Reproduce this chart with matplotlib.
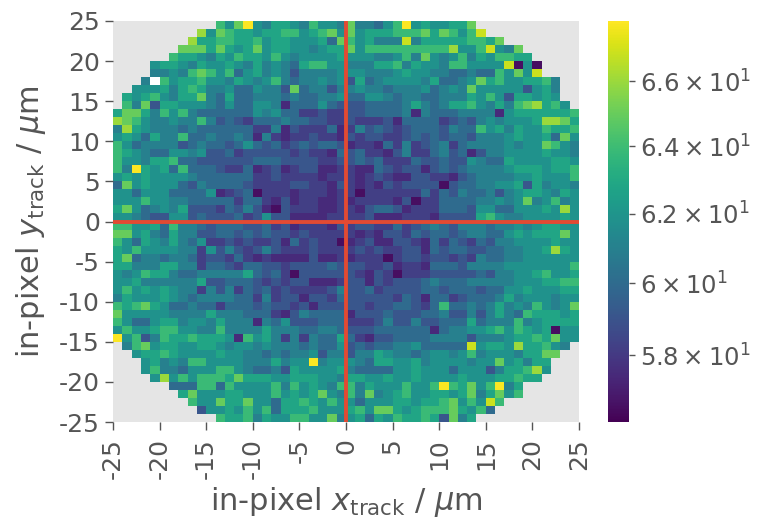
import numpy as np
import matplotlib
matplotlib.use("Agg")
import matplotlib.pyplot as plt
from matplotlib.colors import LogNorm
from matplotlib.ticker import NullLocator

# value for each colour code; '.' = no data, 'w' = white cell
value_of_code = {'0': 56.6, '1': 57.5, '2': 58.2, '3': 59.1, '4': 60.0, '5': 61.0,
                 '6': 61.9, '7': 62.8, '8': 63.9, '9': 65.0, 'a': 66.0, 'b': 66.9, 'c': 67.8,
                 'w': 1.0, '.': np.nan}

# rows from y = +25 down to y = -25, x from -25 to 0
left_half = [
"869c6577658665","a698776778867896","a7788778677666749","999797679677665677",
"8776576877686566667","677657667657565478866","556589868467565355556","5w86778665765685455656",
"66675787556446553945535","767865779547445554544556","859377666546446651444643","7997586854444446564422322",
"a986556558534324445443322","5a76555454444442251322241","6764755844544541521223221","8645555345443464342343443",
"8765446656334233333232214","8665778443333334443333223","85c7674844432241231233112","6767666654444442232222122",
"4967666435444432222332213","6646664444612340222122212","6668665544444244213122112","7964565733324353103222112",
"6654336634333423633111122","8866748554344433423122213","9967547553344343433232222","8647657546223232231423220",
"7686666552635323532223222","7945545542332421211113112","7755577552443244332333343","6568775445555574342033333",
"6675555557334443232331112","6867676552535243423222235","5766676545555442523313324","8789764454424443433231333",
"9666665555755544421354444","8644677566575551546333444","6866788665585555755544554","c683587787776186752525447",
"589677667765665655545446","67787666676655454556355","675658866665557566c566","6855466688654453766667",
"6a6868887977766777665","4448848666685867658","796667766686767965","86697796647787686",
"3667686847778666","87785766886695",
]
# same rows, x from 0 to +25
right_half = [
"955468c6766779","96777888979868b","867555b5777778879","96888888888a668b659",
"66655685965685768877","55577857665886666b060","66555676655445448696b","37456666574456978667785",
"56554555645659666663675","44665455445557686377676","33444457545778657589a786","3344445154445555167777778",
"322231444423435656667aa97","2534323444354486757668778","3233223434344355567667496","1221425234524555565669865",
"3422135224534135566667665","3434222433433654476666776","2114323313434555567776778","2123211332213455556676668",
"2121323333034455667375665","2022222242435445356776576","1222213022444455656956856","21344312224443664466676a6",
"2231112221333378655666676","2332242345435554556567766","2121332434434554467677796","1231133214243243556666766",
"2323223314344334455667a76","1222023323323254455666666","3322312214443555566666668","3213202223333343556678667",
"3313233345444555556667788","3342333344344434466766677","3333324314423444575666566","3323344324844545756586569",
"1333433344533535754877767","2223533533444745558567777","3334444441455667868767066","4213344445555355567787966",
"3434455644444b6776a77865","35576554566568566657799","6547766756666566967577","54444667666466635778a6",
"776676676666766677877","8576668668c87968c57","8595678667767957968","646667767789686b8",
"7869976788897684","67476877873957",
]

x_edges = np.arange(-25, 26)
y_edges = np.arange(-25, 26)
axis_ticks = [-25, -20, -15, -10, -5, 0, 5, 10, 15, 20, 25]
cbar_ticks = [58, 60, 62, 64, 66]
cbar_labels = [r'$5.8 \times 10^{1}$', r'$6 \times 10^{1}$', r'$6.2 \times 10^{1}$',
               r'$6.4 \times 10^{1}$', r'$6.6 \times 10^{1}$']
v_min, v_max = 56.2, 67.9

rows = [l.rjust(25, '.') + r.ljust(25, '.') for l, r in zip(left_half, right_half)]
grid = np.array([[value_of_code[c] for c in row[:50]] for row in rows])[::-1]

GREY = '#555555'
W, H = 758, 522
fig = plt.figure(figsize=(W / 100, H / 100), dpi=100)
ax = fig.add_axes([113 / W, 1 - 422 / H, 466 / W, 401 / H])
ax.set_facecolor('#E5E5E5')
cmap = plt.get_cmap('viridis').copy()
cmap.set_under('white')
cmap.set_bad('#E5E5E5')
mesh = ax.pcolormesh(x_edges, y_edges, grid, cmap=cmap, norm=LogNorm(v_min, v_max),
                     linewidth=0, rasterized=True)
ax.axhline(0, color='#E24A33', lw=2.8)
ax.axvline(0, color='#E24A33', lw=2.8)
ax.set_xlim(-25, 25)
ax.set_ylim(-25, 25)
ax.set_xticks(axis_ticks, labels=[str(t) for t in axis_ticks], rotation=90)
ax.set_yticks(axis_ticks, labels=[str(t) for t in axis_ticks])
ax.tick_params(colors=GREY, labelsize=18, length=5.5, width=1)
ax.tick_params(axis='x', pad=6)
ax.tick_params(axis='y', pad=4)
for s in ax.spines.values():
    s.set_visible(False)
ax.set_xlabel(r'in-pixel $x_\mathrm{track}$ / $\mu$m', fontsize=22, color=GREY, labelpad=4)
ax.set_ylabel(r'in-pixel $y_\mathrm{track}$ / $\mu$m', fontsize=22, color=GREY, labelpad=8)

cax = fig.add_axes([608 / W, 1 - 422 / H, 21 / W, 401 / H])
cb = fig.colorbar(mesh, cax=cax)
cb.outline.set_visible(False)
cb.set_ticks(cbar_ticks, labels=cbar_labels)
cb.ax.yaxis.set_minor_locator(NullLocator())
cb.ax.tick_params(colors=GREY, labelsize=17.6, length=4, width=1, pad=4)

fig.savefig('out.png', dpi=100)
